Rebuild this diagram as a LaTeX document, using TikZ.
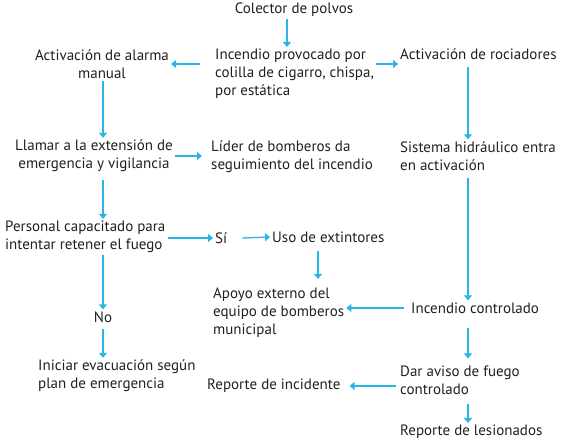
\documentclass[tikz,border=0pt]{standalone}
\usepackage{fontspec}
\setmainfont{PT Sans}
\usetikzlibrary{calc,arrows.meta}
\definecolor{flowblue}{RGB}{41,182,230}
\definecolor{ink}{RGB}{35,31,32}

\begin{document}
\begin{tikzpicture}[
  x=1pt, y=-1pt,
  every node/.style={text=ink, inner sep=2pt, font=\fontsize{15}{18}\selectfont},
  lefttext/.style={align=left, anchor=west},
  midtext/.style={align=center},
  flow/.style={draw=flowblue, line width=1.3pt, -{Triangle[width=8pt,length=5pt]}}
]
\useasboundingbox (0,0) rectangle (564,442);
% columns of the vertical arrows
\coordinate (lx) at (103,0);
\coordinate (mx) at (287,0);
\coordinate (ux) at (318,0);
\coordinate (rx) at (468,0);

\node[midtext] (col) at (294,10) {Colector de polvos};
\node[lefttext] (inc) at (213,74) {Incendio provocado por\\colilla de cigarro, chispa,\\por estática};
\node[midtext] (alarm) at (102,64) {Activación de alarma\\manual};
\node[lefttext] (roc) at (398,54) {Activación de rociadores};
\node[midtext] (llamar) at (94,156) {Llamar a la extensión de\\emergencia y vigilancia};
\node[lefttext] (lider) at (209,157) {Líder de bomberos da\\seguimiento del incendio};
\node[lefttext] (sis) at (398,156) {Sistema hidráulico entra\\en activación};
\node[lefttext] (personal) at (3,237) {Personal capacitado para\\intentar retener el fuego};
\node[lefttext] (si) at (213,238) {Sí};
\node[lefttext] (uso) at (270,237) {Uso de extintores};
\node[midtext] (no) at (103,317) {No};
\node[lefttext] (iniciar) at (36,376) {Iniciar evacuación según\\plan de emergencia};
\node[lefttext] (apoyo) at (211,313) {Apoyo externo del\\equipo de bomberos\\municipal};
\node[lefttext] (incctl) at (409,308) {Incendio controlado};
\node[lefttext] (dar) at (398,380) {Dar aviso de fuego\\controlado};
\node[lefttext] (repinc) at (205,386) {Reporte de incidente};
\node[lefttext] (replesion) at (398,432) {Reporte de lesionados};

% top
\draw[flow] (col.south -| mx) -- (inc.north -| mx);
\draw[flow] ([xshift=-13pt]inc.west |- alarm.east) -- (alarm.east);
\draw[flow] (inc.east |- alarm.east) -- (roc.west |- alarm.east);
% left column
\draw[flow] (alarm.south -| lx) -- (llamar.north -| lx);
\draw[flow] (llamar.east) -- ([xshift=-7pt]lider.west |- llamar.east);
\draw[flow, shorten <=6pt] (llamar.south -| lx) -- (personal.north -| lx);
\draw[flow] (personal.east |- si.west) -- (si.west);
\draw[flow] ([xshift=13pt]si.east) -- (uso.west);
\draw[flow] (personal.south -| lx) -- (no.north -| lx);
\draw[flow, shorten <=4pt] (no.south -| lx) -- (iniciar.north -| lx);
\draw[flow, shorten <=6pt, shorten >=7pt] (uso.south -| ux) -- (apoyo.north -| ux);
% right column
\draw[flow, shorten <=5pt] (roc.south -| rx) -- (sis.north -| rx);
\draw[flow, shorten <=5pt] (sis.south -| rx) -- (incctl.north -| rx);
\draw[flow] ([xshift=-5pt]incctl.west) -- (incctl.west -| apoyo.east);
\draw[flow, shorten <=12pt, shorten >=5pt] (incctl.south -| rx) -- (dar.north -| rx);
\draw[flow, shorten <=7pt] (dar.south -| rx) -- (replesion.north -| rx);
\draw[flow] ([xshift=-2pt]dar.west |- repinc.east) -- ([xshift=7pt]repinc.east);
\end{tikzpicture}
\end{document}
